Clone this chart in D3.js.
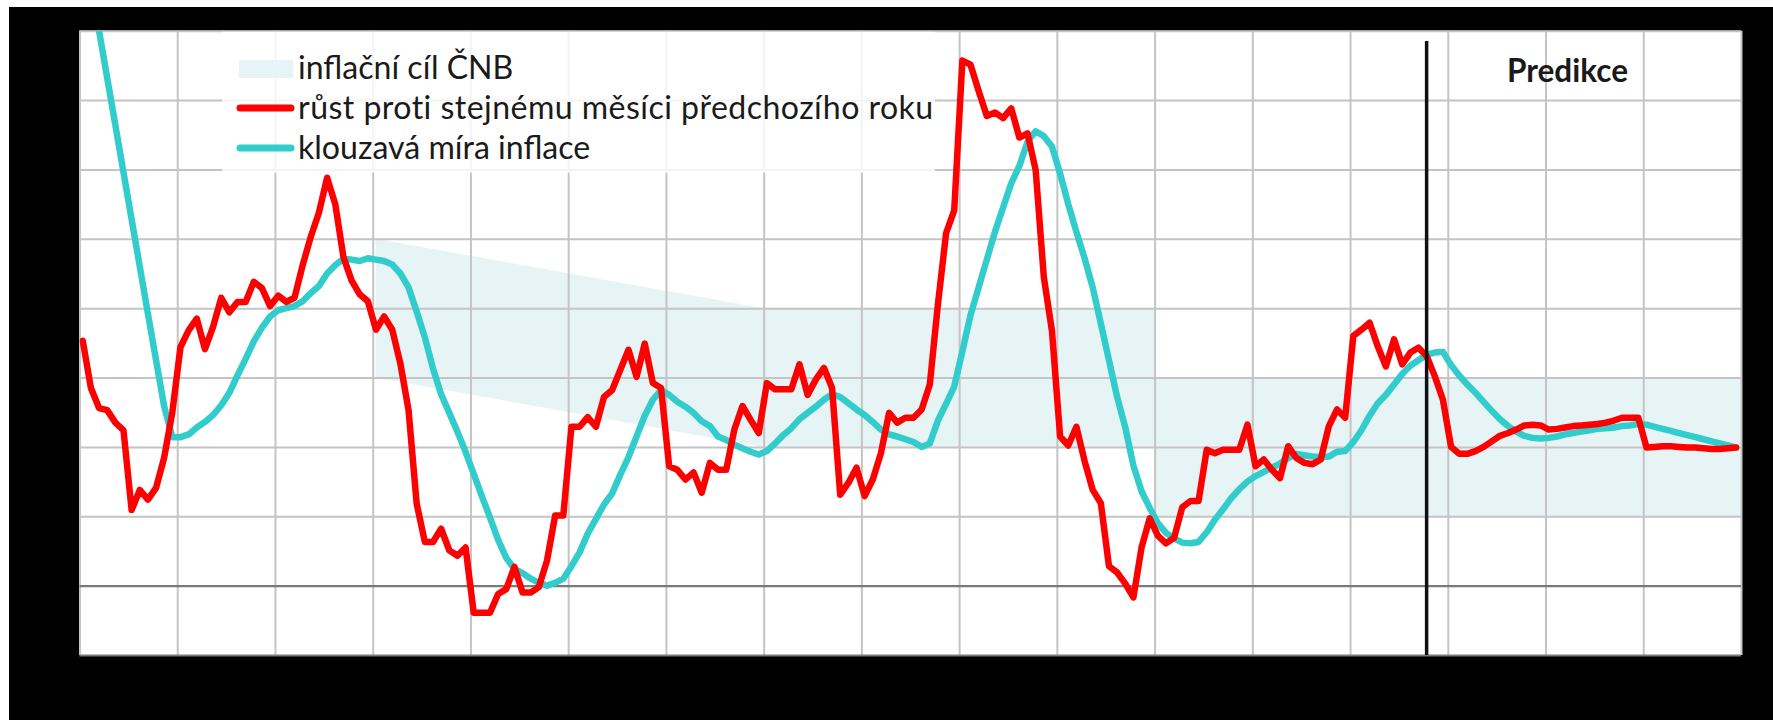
<!DOCTYPE html>
<html>
<head>
<meta charset="utf-8">
<script src="https://cdn.jsdelivr.net/npm/d3@7/dist/d3.min.js"></script>
<style>
  html, body { margin: 0; padding: 0; background: #ffffff; }
  svg { display: block; }
</style>
</head>
<body>
<svg id="chart" width="1773" height="720"></svg>
<script>
// ---------------- DATA ----------------
const startYear = 1999;
const endYear = 2016;
const monthOffset = 0.4; // position of a monthly observation inside its month

// year-on-year CPI growth (%), monthly Jan 1999 - Dec 2015
const yoyInflation = [
  3.53, 2.85, 2.56, 2.53, 2.35, 2.24, 1.09, 1.38, 1.24, 1.41, 1.85, 2.50,
  3.44, 3.68, 3.85, 3.41, 3.73, 4.15, 3.94, 4.09, 4.09, 4.38, 4.29, 4.03,
  4.18, 4.09, 4.15, 4.62, 5.03, 5.38, 5.88, 5.50, 4.74, 4.40, 4.20, 4.10,
  3.69, 3.88, 3.69, 3.20, 2.53, 1.18, 0.63, 0.63, 0.82, 0.51, 0.43, 0.55,
  -0.39, -0.39, -0.39, -0.12, -0.05, 0.27, -0.10, -0.10, -0.02, 0.36, 1.01, 1.01,
  2.29, 2.29, 2.43, 2.29, 2.72, 2.82, 3.11, 3.40, 3.01, 3.49, 2.92, 2.85,
  1.72, 1.67, 1.53, 1.63, 1.34, 1.77, 1.67, 1.67, 2.25, 2.59, 2.39, 2.20,
  2.92, 2.83, 2.83, 2.83, 3.19, 2.75, 2.97, 3.14, 2.85, 1.31, 1.48, 1.70,
  1.29, 1.53, 1.91, 2.49, 2.35, 2.42, 2.42, 2.54, 2.90, 4.06, 5.08, 5.41,
  7.57, 7.51, 7.13, 6.77, 6.82, 6.74, 6.88, 6.46, 6.52, 5.99, 4.45, 3.67,
  2.15, 2.02, 2.29, 1.80, 1.38, 1.19, 0.28, 0.19, 0.03, -0.17, 0.55, 0.97,
  0.72, 0.61, 0.69, 1.13, 1.22, 1.22, 1.96, 1.91, 1.96, 1.96, 1.96, 2.32,
  1.72, 1.82, 1.67, 1.55, 2.01, 1.84, 1.77, 1.75, 1.82, 2.30, 2.54, 2.42,
  3.60, 3.69, 3.79, 3.45, 3.16, 3.55, 3.19, 3.36, 3.43, 3.31, 3.02, 2.68,
  2.00, 1.90, 1.90, 1.94, 2.00, 2.08, 2.16, 2.20, 2.25, 2.31, 2.32, 2.31,
  2.25, 2.26, 2.28, 2.30, 2.31, 2.32, 2.33, 2.35, 2.38, 2.42, 2.42, 2.42,
  1.99, 2.00, 2.01, 2.01, 2.00, 1.99, 1.99, 1.98, 1.97, 1.97, 1.98, 1.99
];

// 12-month moving average inflation (%), monthly Jan 1999 - Dec 2015
const movingAverage = [
  9.35, 8.68, 8.00, 7.32, 6.64, 5.96, 5.28, 4.60, 3.92, 3.25, 2.58, 2.14,
  2.14, 2.18, 2.28, 2.36, 2.46, 2.60, 2.78, 3.03, 3.27, 3.52, 3.72, 3.88,
  3.97, 4.00, 4.03, 4.10, 4.22, 4.32, 4.50, 4.62, 4.71, 4.70, 4.68, 4.72,
  4.70, 4.68, 4.63, 4.50, 4.30, 3.95, 3.58, 3.13, 2.76, 2.49, 2.22, 1.93,
  1.61, 1.29, 0.98, 0.66, 0.40, 0.24, 0.18, 0.10, 0.04, 0.00, 0.04, 0.10,
  0.28, 0.48, 0.75, 0.96, 1.17, 1.33, 1.60, 1.85, 2.15, 2.45, 2.68, 2.82,
  2.75, 2.65, 2.58, 2.49, 2.37, 2.30, 2.15, 2.10, 2.03, 1.98, 1.93, 1.89,
  1.94, 2.05, 2.17, 2.27, 2.40, 2.49, 2.58, 2.68, 2.76, 2.72, 2.63, 2.54,
  2.46, 2.36, 2.25, 2.18, 2.15, 2.11, 2.07, 2.00, 2.05, 2.38, 2.62, 2.87,
  3.38, 3.90, 4.30, 4.70, 5.10, 5.45, 5.80, 6.05, 6.40, 6.55, 6.48, 6.33,
  5.94, 5.50, 5.10, 4.72, 4.30, 3.78, 3.25, 2.72, 2.28, 1.73, 1.36, 1.12,
  0.90, 0.76, 0.68, 0.62, 0.61, 0.63, 0.77, 0.95, 1.10, 1.26, 1.39, 1.50,
  1.58, 1.64, 1.70, 1.76, 1.84, 1.90, 1.88, 1.86, 1.85, 1.86, 1.93, 1.94,
  2.07, 2.24, 2.45, 2.63, 2.75, 2.90, 3.05, 3.17, 3.25, 3.33, 3.36, 3.37,
  3.18, 3.03, 2.90, 2.78, 2.65, 2.52, 2.40, 2.30, 2.22, 2.16, 2.13, 2.12,
  2.13, 2.15, 2.18, 2.20, 2.22, 2.24, 2.26, 2.27, 2.28, 2.30, 2.31, 2.33,
  2.32, 2.29, 2.26, 2.23, 2.20, 2.17, 2.14, 2.11, 2.08, 2.05, 2.02, 1.99
];

// CNB inflation target band
const targetX    = [2002.03, 2006.0, 2010.0, 2010.0, 2016.0];
const targetLow  = [3, 2, 2, 1, 1];
const targetHigh = [5, 4, 4, 3, 3];

const yearTicks  = d3.range(startYear, endYear + 1);
const valueTicks = d3.range(-1, 9);
const yDomain = [-1, 8];

const predictionStart = 2012 + (9 + monthOffset) / 12; // October 2012
const predictionLineTop = 7.85;
const predictionLabel = "Predikce";

const legendLabels = [
  "inflační cíl ČNB",
  "růst proti stejnému měsíci předchozího roku",
  "klouzavá míra inflace"
];

// ---------------- DRAWING ----------------
const svg = d3.select("#chart");
const W = 1773, H = 720;
const m = { left: 79.5, top: 30.7, right: 1741, bottom: 655 };
const pw = m.right - m.left, ph = m.bottom - m.top;

const RED = "#ff0000";
const CYAN = "#33cccc";
const BAND = "#e7f4f5";
const GRID = "#c4c4c4";
const FONT = "Lato, 'Open Sans', sans-serif";

// black frame background
svg.append("rect").attr("x", 9).attr("y", 7).attr("width", W - 9).attr("height", H - 7).attr("fill", "#000");
// plot area
svg.append("rect").attr("x", m.left).attr("y", m.top).attr("width", pw).attr("height", ph).attr("fill", "#fff");

const x = d3.scaleLinear().domain([startYear, endYear]).range([m.left, m.right]);
const y = d3.scaleLinear().domain(yDomain).range([m.bottom, m.top]);

svg.append("defs").append("clipPath").attr("id", "plotclip")
  .append("rect").attr("x", m.left).attr("y", m.top).attr("width", pw).attr("height", ph);

// target band
const bandData = targetX.map((v, i) => ({ x: v, lo: targetLow[i], hi: targetHigh[i] }));
svg.append("path")
  .datum(bandData)
  .attr("fill", BAND)
  .attr("d", d3.area().x(d => x(d.x)).y0(d => y(d.lo)).y1(d => y(d.hi)));

// vertical gridlines (years)
const xGrid = svg.append("g").attr("transform", `translate(0,${m.bottom})`)
  .call(d3.axisBottom(x).tickValues(yearTicks).tickSize(-ph).tickFormat(""));
xGrid.select(".domain").remove();
xGrid.selectAll(".tick line").attr("stroke", GRID).attr("stroke-width", 2);

// horizontal gridlines (values)
const yGrid = svg.append("g").attr("transform", `translate(${m.left},0)`)
  .call(d3.axisLeft(y).tickValues(valueTicks).tickSize(-pw).tickFormat(""));
yGrid.select(".domain").remove();
yGrid.selectAll(".tick line")
  .attr("stroke", d => (d === 0 || d === -1) ? "#7a7a7a" : GRID)
  .attr("stroke-width", d => (d === 0 || d === -1) ? 2.2 : 2);

// monthly dates
const dates = yoyInflation.map((_, i) => startYear + (i + monthOffset) / 12);
const lineGen = d3.line().x(d => x(d[0])).y(d => y(d[1])).curve(d3.curveLinear);

const plot = svg.append("g").attr("clip-path", "url(#plotclip)");
plot.append("path")
  .datum(dates.map((d, i) => [d, movingAverage[i]]))
  .attr("fill", "none").attr("stroke", CYAN).attr("stroke-width", 6.5)
  .attr("stroke-linejoin", "round").attr("stroke-linecap", "round")
  .attr("d", lineGen);
plot.append("path")
  .datum(dates.map((d, i) => [d, yoyInflation[i]]))
  .attr("fill", "none").attr("stroke", RED).attr("stroke-width", 6.5)
  .attr("stroke-linejoin", "round").attr("stroke-linecap", "round")
  .attr("d", lineGen);

// prediction divider
svg.append("line")
  .attr("x1", x(predictionStart)).attr("x2", x(predictionStart))
  .attr("y1", y(predictionLineTop)).attr("y2", y(yDomain[0]))
  .attr("stroke", "#111").attr("stroke-width", 3.5);

// Predikce label
const pred = svg.append("text")
  .attr("x", 1507).attr("y", 81.5)
  .attr("font-family", FONT).attr("font-weight", "bold")
  .attr("font-size", 28).attr("fill", "#1a1a1a")
  .text(predictionLabel);
{
  const len = pred.node().getComputedTextLength();
  pred.attr("font-size", 28 * 121 / len);
}

// legend
const lg = svg.append("g");
lg.append("rect").attr("x", 222).attr("y", m.top + 1).attr("width", 713).attr("height", 141)
  .attr("fill", "#fff").attr("fill-opacity", 0.82);
lg.append("rect").attr("x", 239).attr("y", 60).attr("width", 54).attr("height", 18).attr("fill", BAND);
lg.append("line").attr("x1", 240).attr("x2", 291).attr("y1", 108).attr("y2", 108)
  .attr("stroke", RED).attr("stroke-width", 7).attr("stroke-linecap", "round");
lg.append("line").attr("x1", 240).attr("x2", 291).attr("y1", 148).attr("y2", 148)
  .attr("stroke", CYAN).attr("stroke-width", 7).attr("stroke-linecap", "round");
const baselines = [78.5, 118.5, 159];
const texts = lg.selectAll("text.leg").data(legendLabels).join("text")
  .attr("class", "leg")
  .attr("x", 298).attr("y", (d, i) => baselines[i])
  .attr("font-family", FONT).attr("font-size", 28).attr("fill", "#1a1a1a")
  .text(d => d);
{
  const len = texts.nodes()[1].getComputedTextLength();
  texts.attr("font-size", 28 * 617 / len);
  // the long label runs slightly wider in the reference face
  texts.filter((d, i) => i === 1).attr("letter-spacing", 0.45);
}
</script>
</body>
</html>
